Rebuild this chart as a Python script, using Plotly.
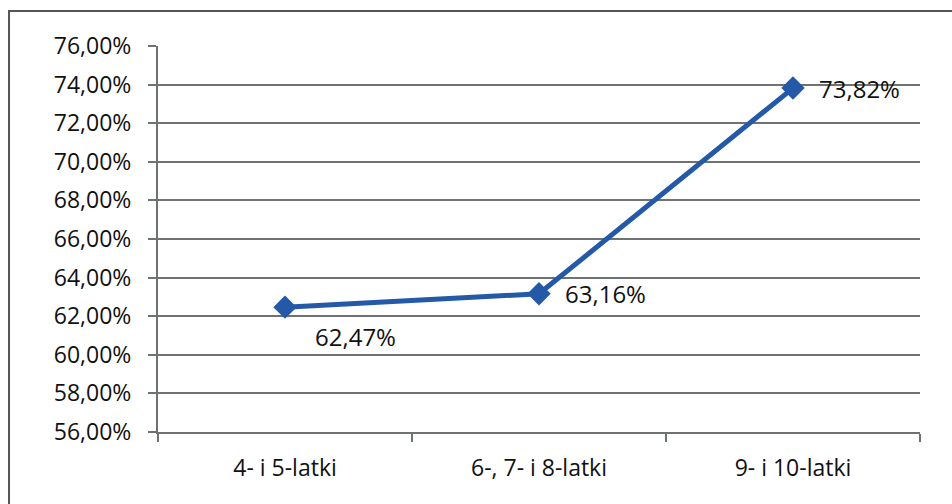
import plotly.graph_objects as go

categories = ["4- i 5-latki", "6-, 7- i 8-latki", "9- i 10-latki"]
values = [62.47, 63.16, 73.82]
y_ticks = [56, 58, 60, 62, 64, 66, 68, 70, 72, 74, 76]

def pl(v):
    return f"{v:.2f}".replace(".", ",") + "%"

line_blue = "#2459A8"
grid_gray = "#6E7273"
font_main = "Open Sans, Lato, DejaVu Sans, sans-serif"

fig = go.Figure()
fig.add_trace(go.Scatter(
    x=categories, y=values, mode="lines+markers",
    line=dict(color=line_blue, width=5),
    marker=dict(symbol="diamond", size=18, color=line_blue),
    hoverinfo="skip", showlegend=False,
))

# value labels beside each point
label_offsets = [(28, -29, "left"), (24, 0, "left"), (24, 0, "left")]
for c, v, (dx, dy, al) in zip(categories, values, label_offsets):
    fig.add_annotation(
        x=c, y=v, text=pl(v), showarrow=False, xanchor=al, yanchor="middle",
        xshift=dx, yshift=dy, font=dict(size=24, color="#111111", family=font_main),
    )

# outer chart frame
fig.add_shape(type="rect", xref="paper", yref="paper",
              x0=-0.1955, x1=1.2, y0=-0.3, y1=1.0907,
              line=dict(color="#555555", width=2), layer="below")

fig.update_layout(
    width=952, height=504,
    margin=dict(l=158, r=32, t=46, b=72),
    paper_bgcolor="white", plot_bgcolor="white",
    font=dict(family=font_main, color="#111111"),
    xaxis=dict(
        type="category", range=[-0.5, 2.5],
        showgrid=False, showline=True, linecolor=grid_gray, linewidth=2,
        ticks="outside", tickson="boundaries", ticklen=8, tickcolor=grid_gray, tickwidth=2,
        tickfont=dict(size=23, family=font_main), zeroline=False,
        ticklabelstandoff=14,
    ),
    yaxis=dict(
        range=[56, 76], tickvals=y_ticks, ticktext=[pl(t) for t in y_ticks],
        showgrid=True, gridcolor=grid_gray, gridwidth=2,
        showline=True, linecolor=grid_gray, linewidth=2,
        ticks="outside", ticklen=8, tickcolor=grid_gray, tickwidth=2,
        tickfont=dict(size=23, family=font_main), zeroline=False,
        ticklabelstandoff=12,
    ),
)

fig.write_html("out.html")
